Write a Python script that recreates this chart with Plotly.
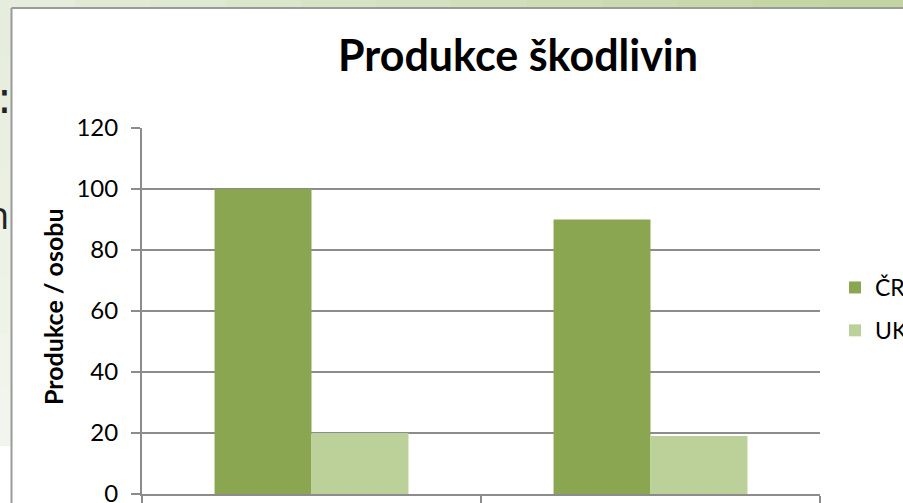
import plotly.graph_objects as go

# ---- data ----
categories = ["Skupina 1", "Skupina 2"]
series_names = ["ČR", "UK"]
cr_values = [100, 90]
uk_values = [20, 19]
y_ticks = [0, 20, 40, 60, 80, 100, 120]
chart_title = "Produkce škodlivin"
y_title = "Produkce / osobu"

W, H = 903, 560          # figure taller than the 503px window: the bottom is cropped like the reference
L, R, T, B = 142, 820, 128, 494  # plot area in pixels

def px(p):
    return (p - L) / (R - L)

def py(p):
    return (B - p) / (B - T)

FONT = "Lato"
GRID = "#8c8c8c"

fig = go.Figure()
fig.add_trace(go.Bar(name=series_names[0], x=categories, y=cr_values,
                     marker=dict(color="#8aa650", line=dict(width=0)),
                     legendgroup="a"))
fig.add_trace(go.Bar(name=series_names[1], x=categories, y=uk_values,
                     marker=dict(color="#bcd09a", line=dict(width=0)),
                     legendgroup="b"))

shapes = []
# slide background on the left (pale green, fading)
steps = 8
for i in range(steps):
    y0 = i * 445 / steps
    y1 = (i + 1) * 445 / steps
    t = i / steps
    col = f"rgb({int(0xE6 + (0xF4-0xE6)*t)},{int(0xED + (0xF7-0xED)*t)},{int(0xDC + (0xF0-0xDC)*t)})"
    shapes.append(dict(type="rect", xref="paper", yref="paper",
                       x0=px(0), x1=px(11), y0=py(y1 + 1), y1=py(y0),
                       fillcolor=col, line=dict(width=0), layer="below"))
# top green strip, gradient left->right
nst = 12
for i in range(nst):
    x0 = i * W / nst
    x1 = (i + 1) * W / nst
    t = i / (nst - 1)
    col = f"rgb({int(0xE6 + (0xC2-0xE6)*t)},{int(0xED + (0xD4-0xED)*t)},{int(0xDC + (0xA1-0xDC)*t)})"
    shapes.append(dict(type="rect", xref="paper", yref="paper",
                       x0=px(x0), x1=px(x1 + 1), y0=py(8), y1=py(0),
                       fillcolor=col, line=dict(width=0), layer="below"))
# chart box border
shapes.append(dict(type="line", xref="paper", yref="paper",
                   x0=px(11.5), x1=px(11.5), y0=py(H), y1=py(8),
                   line=dict(color="#9a9a9a", width=2), layer="below"))
shapes.append(dict(type="line", xref="paper", yref="paper",
                   x0=px(11.5), x1=px(W), y0=py(8), y1=py(8),
                   line=dict(color="#9a9a9a", width=2), layer="below"))

annotations = [
    dict(text=f"<b>{chart_title}</b>", xref="paper", yref="paper",
         x=px(518), y=py(54), xanchor="center", yanchor="middle",
         showarrow=False, font=dict(family=FONT, size=43, color="black")),
    dict(text=f"<b>{y_title}</b>", xref="paper", yref="paper",
         x=px(53), y=py(307), xanchor="center", yanchor="middle",
         textangle=-90, showarrow=False,
         font=dict(family=FONT, size=25, color="black")),
    dict(text=":", xref="paper", yref="paper", x=px(14), y=py(97),
         xanchor="right", yanchor="middle", showarrow=False,
         font=dict(family="DejaVu Sans", size=44, color="#222222")),
    dict(text="n", xref="paper", yref="paper", x=px(11), y=py(214),
         xanchor="right", yanchor="middle", showarrow=False,
         font=dict(family="Open Sans", size=38, color="#222222")),
]

fig.update_layout(
    width=W, height=H,
    margin=dict(l=L, r=W - R, t=T, b=H - B, autoexpand=False),
    paper_bgcolor="white", plot_bgcolor="white",
    barmode="group", bargap=0.428, bargroupgap=0,
    shapes=shapes, annotations=annotations,
    showlegend=True,
    legend=dict(x=px(835), y=py(309), xanchor="left", yanchor="middle",
                traceorder="grouped", tracegroupgap=10,
                font=dict(family=FONT, size=23, color="black"),
                bgcolor="rgba(0,0,0,0)"),
    font=dict(family=FONT),
)
fig.update_yaxes(range=[0, 120], tickvals=y_ticks, showgrid=True,
                 gridcolor=GRID, gridwidth=2, showline=True, linecolor=GRID,
                 linewidth=2, ticks="outside", ticklen=9, tickwidth=2,
                 tickcolor=GRID, zeroline=False, ticklabelstandoff=8,
                 tickfont=dict(family=FONT, size=24, color="black"))
fig.update_xaxes(showticklabels=False, showline=True, linecolor=GRID,
                 linewidth=2, ticks="outside", tickson="boundaries",
                 ticklen=9, tickwidth=2, tickcolor=GRID, showgrid=False)

fig.write_html("out.html", config={"displayModeBar": False},
               post_script="document.body.style.margin='0';document.body.style.overflow='hidden';")
